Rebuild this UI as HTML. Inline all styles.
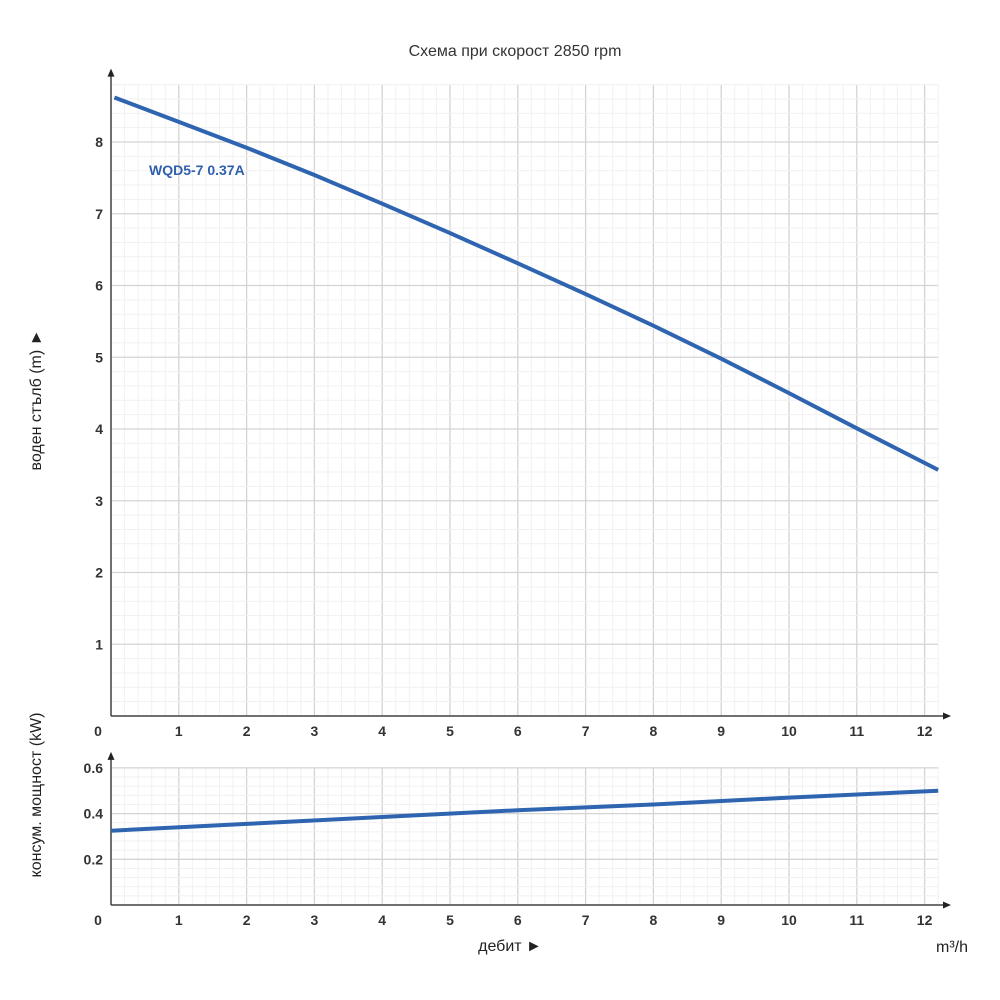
<!DOCTYPE html>
<html><head><meta charset="utf-8"><style>
body{margin:0;background:#fff}
svg{display:block;font-family:"Liberation Sans","DejaVu Sans",sans-serif}
</style></head><body>
<svg id="c" width="1000" height="1000" viewBox="0 0 1000 1000">
<text x="515" y="56" text-anchor="middle" font-size="16" fill="#333">Схема при скорост 2850 rpm</text>
<g id="grid"></g>
<g id="axes"></g>
<text x="149" y="175" font-size="14" font-weight="bold" fill="#2f5fad">WQD5-7 0.37A</text>
<text transform="translate(41,400) rotate(-90)" text-anchor="middle" font-size="16" fill="#222">воден стълб (m) ►</text>
<text transform="translate(41,795) rotate(-90)" text-anchor="middle" font-size="16" fill="#222">консум. мощност (kW)</text>
<text x="510" y="951" text-anchor="middle" font-size="16" fill="#222">дебит ►</text>
<text x="952" y="952" text-anchor="middle" font-size="16" fill="#222">m³/h</text>
</svg>
<script>
const xTicks=[0,1,2,3,4,5,6,7,8,9,10,11,12];
const headTicks=[1,2,3,4,5,6,7,8];
const powerTicks=[0.2,0.4,0.6];
const flow=[0.05,1,2,3,4,5,6,7,8,9,10,11,12.2];
const head=[8.62,8.28,7.92,7.54,7.14,6.73,6.31,5.88,5.44,4.98,4.5,4.01,3.43];
const pFlow=[0,2,4,6,8,10,12.2];
const power=[0.325,0.355,0.385,0.415,0.44,0.47,0.5];
const NS='http://www.w3.org/2000/svg';
const X0=111,DX=67.8,XMAX=12.2;
const sx=v=>X0+v*DX;
const H0=716,DH=71.75,HMAX=8.8;
const sh=v=>H0-v*DH;
const P0=905,DP=228.5,PMAX=0.6;
const sp=v=>P0-v*DP;
const grid=document.getElementById('grid'),axes=document.getElementById('axes'),svg=document.getElementById('c');
function mk(t,a,p){const e=document.createElementNS(NS,t);for(const k in a)e.setAttribute(k,a[k]);(p||svg).appendChild(e);return e;}
function panel(sy,maxV,step,yB,yT){
 for(let i=0;i<=Math.round(XMAX/0.2);i++){const v=i*0.2;const major=Math.abs(v-Math.round(v))<1e-6;
  const l=mk('line',{x1:sx(v),x2:sx(v),y1:yB,y2:yT,stroke:major?'#d4d4d4':'#f1f1f1','stroke-width':major?1.3:1},grid);
  }
 for(let i=0;i<=Math.round(maxV/step);i++){const v=i*step;const major=i%5==0;
  const l=mk('line',{x1:X0,x2:sx(XMAX),y1:sy(v),y2:sy(v),stroke:major?'#d4d4d4':'#f1f1f1','stroke-width':major?1.3:1},grid);
  }
 let a=mk('line',{x1:X0,x2:X0,y1:yB,y2:yT-10,stroke:'#444','stroke-width':1.5},axes);
 
 a=mk('polygon',{points:`${X0-3.5},${yT-8} ${X0+3.5},${yT-8} ${X0},${yT-16}`,fill:'#222'},axes);
 
 a=mk('line',{x1:X0,x2:945,y1:yB,y2:yB,stroke:'#444','stroke-width':1.5},axes);
 
 a=mk('polygon',{points:`943,${yB-3.5} 943,${yB+3.5} 951,${yB}`,fill:'#222'},axes);
 
 xTicks.forEach(v=>{const t=mk('text',{x:v==0?98:sx(v),y:yB+20,'text-anchor':'middle','font-size':14,'font-weight':'bold',fill:'#333'},axes);t.textContent=v;
  });
}
panel(sh,HMAX,0.2,H0,sh(HMAX));
panel(sp,PMAX,0.04,P0,sp(PMAX));
headTicks.forEach(v=>{const t=mk('text',{x:103,y:sh(v)+5,'text-anchor':'end','font-size':14,'font-weight':'bold',fill:'#333'},axes);t.textContent=v;
 });
powerTicks.forEach(v=>{const t=mk('text',{x:103,y:sp(v)+5,'text-anchor':'end','font-size':14,'font-weight':'bold',fill:'#333'},axes);t.textContent=v.toFixed(1);
 });
function path(xs,ys,sy){let d='';xs.forEach((x,i)=>{d+=(i?'L':'M')+sx(x).toFixed(1)+','+sy(ys[i]).toFixed(1);});return d;}
let hl=mk('path',{d:path(flow,head,sh),fill:'none',stroke:'#2f64b0','stroke-width':4,'stroke-linejoin':'round'});


let pl=mk('path',{d:path(pFlow,power,sp),fill:'none',stroke:'#2f64b0','stroke-width':4,'stroke-linejoin':'round'});


</script>
</body></html>
